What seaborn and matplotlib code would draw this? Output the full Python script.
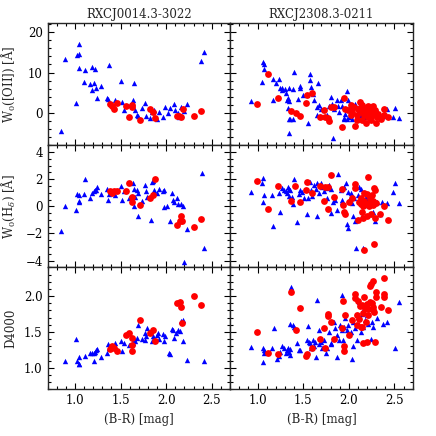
import numpy as np
import seaborn as sns
import matplotlib.pyplot as plt
from matplotlib.ticker import MultipleLocator

# (B-R, value) pairs; blue triangles and red circles
oii_0014_blue = np.array([
    (0.85, -4.5), (0.89, 13.3), (1.01, 2.5), (1.02, 14.3), (1.04, 14.7), (1.05, 17.1),
    (1.04, 11.1), (1.11, 10.7), (1.10, 7.7), (1.17, 7.2), (1.19, 11.4), (1.22, 10.8),
    (1.19, 5.6), (1.21, 7.5), (1.23, 6.2), (1.24, 3.8), (1.29, 6.8), (1.35, 3.6),
    (1.36, 3.4), (1.37, 11.8), (1.44, 3.1), (1.50, 8.0), (1.52, 2.7), (1.54, 0.7),
    (1.60, 1.9), (1.64, 3.1), (1.65, 7.3), (1.66, 0.8), (1.68, -0.6), (1.69, -0.8),
    (1.74, 1.3), (1.77, 2.5), (1.78, -0.7), (1.82, -1.2), (1.84, 0.2), (1.87, 0.7),
    (1.90, -1.6), (1.92, 0.2), (1.97, -1.0), (1.99, 1.5), (2.02, 0.1), (2.04, 1.3),
    (2.08, 2.1), (2.10, 0.8), (2.13, 0.1), (2.14, -1.0), (2.16, 1.5), (2.19, 0.4),
    (2.23, 2.1), (2.38, 12.9), (2.41, 15.0)])
oii_0014_red = np.array([
    (1.38, 2.1), (1.41, 1.7), (1.43, 1.0), (1.46, 2.5), (1.56, 1.7), (1.59, -0.9),
    (1.62, 1.9), (1.63, 1.6), (1.71, -1.7), (1.82, 1.0), (1.86, 0.2), (1.88, -1.2),
    (2.12, -0.8), (2.14, -0.8), (2.16, -0.9), (2.18, 1.0), (2.30, -0.7), (2.38, 0.4)])

hd_0014_blue = np.array([
    (0.85, -1.8), (0.89, 0.0), (1.01, -0.3), (1.02, 0.9), (1.04, 0.8), (1.05, 0.3),
    (1.04, 0.4), (1.11, 2.05), (1.10, 0.9), (1.17, 0.65), (1.19, 1.0), (1.21, 1.1),
    (1.22, 1.2), (1.24, 1.45), (1.23, 1.2), (1.29, 0.9), (1.35, 1.25), (1.36, 0.45),
    (1.37, 0.9), (1.44, 0.8), (1.50, 1.5), (1.52, 0.45), (1.54, 1.15), (1.59, 0.6),
    (1.64, 1.75), (1.65, 1.3), (1.66, 0.7), (1.68, 1.2), (1.69, -0.75), (1.65, 0.05),
    (1.69, 0.95), (1.74, 0.4), (1.77, 1.6), (1.78, 1.1), (1.79, 0.7), (1.83, -1.0),
    (1.84, 1.8), (1.86, 1.85), (1.87, 1.2), (1.90, 0.95), (1.92, 1.25), (1.97, 1.1),
    (1.98, -0.05), (2.01, 0.0), (1.98, 1.2), (2.04, -1.1), (2.06, 0.95), (2.07, 0.45),
    (2.08, 0.3), (2.12, 0.6), (2.13, 0.2), (2.16, 0.15), (2.18, 0.05), (2.19, -4.1),
    (2.23, -1.7), (2.39, 2.45), (2.41, -3.05)])
hd_0014_red = np.array([
    (1.38, 1.1), (1.41, 1.0), (1.43, 1.1), (1.46, 1.15), (1.56, 1.1), (1.59, 1.75),
    (1.62, 0.3), (1.63, 0.7), (1.71, 0.1), (1.82, 0.65), (1.86, 0.8), (1.88, 2.0),
    (2.12, -1.35), (2.15, -1.1), (2.16, -0.75), (2.17, -1.1), (2.30, -1.55), (2.38, -0.9)])

d4000_0014_blue = np.array([
    (0.89, 1.10), (1.01, 1.40), (1.02, 1.10), (1.04, 1.15), (1.05, 1.06), (1.05, 1.05),
    (1.11, 1.16), (1.17, 1.20), (1.19, 1.20), (1.21, 1.20), (1.22, 1.22), (1.23, 1.25),
    (1.24, 1.26), (1.21, 1.10), (1.29, 1.15), (1.35, 1.21), (1.36, 1.33), (1.37, 1.28),
    (1.44, 1.29), (1.44, 1.34), (1.50, 1.37), (1.52, 1.24), (1.54, 1.35), (1.59, 1.32),
    (1.64, 1.35), (1.65, 1.40), (1.66, 1.38), (1.68, 1.42), (1.69, 1.60), (1.74, 1.40),
    (1.77, 1.39), (1.77, 1.48), (1.78, 1.44), (1.79, 1.55), (1.84, 1.37), (1.86, 1.45),
    (1.87, 1.40), (1.90, 1.46), (1.91, 1.49), (1.92, 1.40), (1.97, 1.47), (1.98, 1.38),
    (1.99, 1.44), (2.03, 1.20), (2.04, 1.19), (2.06, 1.54), (2.07, 1.53), (2.09, 1.42),
    (2.11, 1.48), (2.13, 1.53), (2.15, 1.51), (2.16, 1.65), (2.18, 1.67), (2.18, 1.37),
    (2.23, 1.11), (2.41, 1.09)])
d4000_0014_red = np.array([
    (1.38, 1.26), (1.41, 1.31), (1.43, 1.28), (1.46, 1.23), (1.56, 1.46), (1.59, 1.49),
    (1.62, 1.41), (1.63, 1.32), (1.62, 1.24), (1.71, 1.66), (1.82, 1.49), (1.86, 1.53),
    (1.88, 1.38), (2.12, 1.90), (2.15, 1.92), (2.16, 1.85), (2.17, 1.63), (2.30, 2.00),
    (2.38, 1.87)])

oii_2308_blue = np.array([
    (0.93, 2.9), (1.06, 12.6), (1.07, 12.0), (1.07, 10.8), (1.05, 7.6), (1.17, 8.3),
    (1.17, 3.1), (1.20, 7.5), (1.23, 8.5), (1.25, 6.1), (1.27, 6.3), (1.27, 5.8),
    (1.30, 6.0), (1.31, 5.0), (1.33, 3.8), (1.32, 3.1), (1.35, 3.0), (1.33, 1.3),
    (1.35, -1.4), (1.36, -1.6), (1.39, -1.6), (1.34, -5.0), (1.40, 10.1), (1.35, 6.3),
    (1.39, 6.0), (1.44, 3.5), (1.46, 6.2), (1.47, 6.6), (1.50, 4.4), (1.55, -2.6),
    (1.58, 9.6), (1.57, 8.1), (1.59, 6.4), (1.61, 4.6), (1.62, 3.1), (1.66, 7.4),
    (1.65, 1.5), (1.67, 1.9), (1.65, -0.6), (1.69, 1.1), (1.73, 0.7), (1.76, -0.6),
    (1.78, 1.7), (1.80, 4.0), (1.82, 2.3), (1.83, -6.1), (1.84, 1.0), (1.87, 3.3),
    (1.88, 1.8), (1.89, 0.2), (1.91, 3.3), (1.92, 1.7), (1.95, -1.2), (1.96, -0.2),
    (1.98, 5.5), (1.99, 3.1), (2.00, -1.0), (2.02, 0.5), (2.05, 1.7), (2.04, -1.4),
    (2.07, 2.1), (2.13, 1.1), (2.13, -0.6), (2.16, 2.1), (2.20, 1.7), (2.23, 0.5),
    (2.25, -0.2), (2.28, 0.8), (2.31, 0.4), (2.34, -0.6), (2.37, -0.8), (2.42, 1.1),
    (2.48, -1.0), (2.51, 1.2), (2.55, -1.2), (1.95, -1.4), (1.98, -1.4), (2.02, -0.6),
    (2.09, -0.2), (2.11, 0.7), (2.17, -1.0), (2.22, -1.0), (2.24, 1.7), (2.29, -0.6)])
oii_2308_red = np.array([
    (0.99, 2.1), (1.12, 9.6), (1.22, 3.7), (1.37, 0.5), (1.42, 0.0), (1.47, -0.7),
    (1.54, 4.5), (1.60, 4.9), (1.53, 2.5), (1.68, -1.0), (1.73, 0.8), (1.74, -1.0),
    (1.77, -1.2), (1.78, -2.1), (1.80, 1.5), (1.84, 1.5), (1.93, -3.5), (1.95, 3.6),
    (1.96, 1.1), (1.99, 0.7), (2.02, 1.9), (2.02, -0.4), (2.04, 0.2), (2.07, -3.1),
    (2.09, -0.6), (2.10, 1.1), (2.12, 2.7), (2.13, 1.5), (2.14, 0.2), (2.14, -1.8),
    (2.16, 0.8), (2.17, -0.6), (2.19, 1.3), (2.19, -2.5), (2.20, 0.2), (2.21, 1.7),
    (2.21, -1.0), (2.23, 0.8), (2.23, -0.2), (2.24, -1.8), (2.25, 0.7), (2.26, 1.7),
    (2.27, -0.6), (2.29, 0.7), (2.30, -2.5), (2.31, -1.0), (2.32, -0.2), (2.35, -1.4),
    (2.38, 1.1), (2.39, -0.6), (2.43, -1.0), (2.14, 1.9), (2.06, 1.5), (2.09, -1.8)])

hd_2308_blue = np.array([
    (0.93, 1.08), (1.06, 2.08), (1.05, 1.75), (1.07, 0.83), (1.06, 0.3), (1.16, 0.83),
    (1.17, -1.43), (1.25, -0.43), (1.24, 0.95), (1.27, 1.33), (1.29, 1.2), (1.31, 1.15),
    (1.33, 1.45), (1.32, 1.0), (1.34, 1.25), (1.35, 0.75), (1.36, 1.2), (1.38, 0.7),
    (1.39, 0.15), (1.40, 2.03), (1.43, -1.18), (1.45, 0.9), (1.47, 1.2), (1.49, 1.08),
    (1.51, 0.63), (1.54, -0.55), (1.55, 0.65), (1.57, 1.83), (1.59, 1.2), (1.60, 0.75),
    (1.62, 1.58), (1.64, 1.25), (1.65, 1.7), (1.65, -0.75), (1.67, 0.95), (1.68, 1.58),
    (1.69, 1.7), (1.71, 1.45), (1.73, 1.15), (1.76, 0.65), (1.76, 1.33), (1.78, 1.58),
    (1.80, -0.5), (1.81, 1.25), (1.83, 0.33), (1.85, 0.5), (1.87, -0.3), (1.88, 2.4),
    (1.91, 1.2), (1.92, 0.5), (1.93, 0.33), (1.95, 1.45), (1.97, 1.75), (1.99, 1.08),
    (1.98, -1.3), (1.99, -1.6), (2.00, 0.5), (2.02, 0.95), (2.04, 0.25), (2.05, -0.68),
    (2.07, -1.05), (2.08, -3.1), (2.10, 0.83), (2.11, 1.45), (2.13, 1.25), (2.14, -0.68),
    (2.16, -3.1), (2.19, 0.7), (2.21, 0.08), (2.27, -0.43), (2.29, -1.05), (2.31, 0.33),
    (2.34, -0.55), (2.36, 0.33), (2.42, 0.28), (2.48, 1.08), (2.51, 1.7), (2.55, 0.25),
    (2.03, 0.7), (2.06, 0.58), (2.20, 0.5), (2.24, 0.83)])
hd_2308_red = np.array([
    (0.99, 1.88), (1.12, -0.23), (1.22, 1.5), (1.37, 0.38), (1.41, 1.5), (1.47, 0.3),
    (1.53, 1.2), (1.54, 1.83), (1.60, 1.0), (1.68, 1.5), (1.73, 0.38), (1.74, 1.4),
    (1.77, 1.4), (1.77, -0.23), (1.80, 2.28), (1.84, 0.7), (1.93, 1.25), (1.94, 0.08),
    (1.95, -0.43), (1.96, -0.6), (2.00, 0.33), (2.04, 0.65), (2.07, 1.63), (2.07, 1.33),
    (2.10, -1.0), (2.11, 0.33), (2.13, 0.58), (2.13, 0.2), (2.14, -0.43), (2.15, -0.85),
    (2.16, 0.0), (2.17, 0.4), (2.17, 1.0), (2.17, -3.25), (2.19, 0.2), (2.20, -0.68),
    (2.21, 2.15), (2.22, 0.0), (2.23, 0.33), (2.23, 0.58), (2.24, -0.55), (2.25, 0.83),
    (2.25, 0.2), (2.27, 0.08), (2.28, -2.8), (2.28, 1.33), (2.29, 1.2), (2.29, -0.85),
    (2.30, 0.25), (2.34, -0.6), (2.38, 0.0), (2.43, -0.98), (2.27, 0.4), (2.20, 0.9)])

d4000_2308_blue = np.array([
    (0.93, 1.29), (1.06, 1.27), (1.07, 1.25), (1.06, 1.08), (1.07, 1.20), (1.18, 1.56),
    (1.16, 1.27), (1.21, 1.12), (1.23, 1.16), (1.25, 1.22), (1.27, 1.30), (1.29, 1.28),
    (1.31, 1.20), (1.32, 1.25), (1.33, 1.28), (1.35, 1.22), (1.36, 1.26), (1.36, 1.18),
    (1.37, 2.13), (1.36, 1.61), (1.39, 1.60), (1.40, 1.57), (1.43, 1.35), (1.45, 1.25),
    (1.47, 1.25), (1.54, 1.39), (1.55, 1.58), (1.56, 1.36), (1.58, 1.34), (1.59, 1.28),
    (1.61, 1.39), (1.62, 1.30), (1.63, 1.36), (1.64, 1.15), (1.65, 1.95), (1.67, 1.53),
    (1.67, 1.33), (1.69, 1.36), (1.71, 1.28), (1.73, 1.39), (1.75, 1.21), (1.76, 1.28),
    (1.78, 1.50), (1.80, 1.34), (1.81, 1.33), (1.84, 1.64), (1.85, 1.55), (1.87, 1.46),
    (1.87, 1.15), (1.89, 1.39), (1.90, 1.60), (1.92, 1.52), (1.93, 2.01), (1.94, 1.39),
    (1.95, 1.57), (1.96, 1.69), (1.98, 1.53), (1.99, 1.60), (2.00, 1.47), (2.02, 1.50),
    (2.04, 1.12), (2.05, 1.64), (2.05, 1.30), (2.07, 1.55), (2.09, 1.39), (2.10, 1.71),
    (2.11, 1.91), (2.13, 1.50), (2.14, 1.75), (2.16, 1.80), (2.16, 1.57), (2.18, 1.67),
    (2.20, 1.73), (2.21, 1.61), (2.24, 1.40), (2.25, 1.64), (2.27, 1.57), (2.31, 1.69),
    (2.37, 1.61), (2.42, 1.64), (2.51, 1.28), (2.55, 1.91)])
d4000_2308_red = np.array([
    (0.99, 1.50), (1.12, 1.20), (1.22, 1.19), (1.37, 2.05), (1.42, 1.53), (1.47, 1.84),
    (1.53, 1.16), (1.54, 1.19), (1.60, 1.28), (1.68, 1.40), (1.73, 1.55), (1.74, 1.28),
    (1.77, 1.75), (1.77, 1.72), (1.80, 1.64), (1.84, 1.40), (1.93, 1.55), (1.94, 1.93),
    (1.95, 1.30), (1.95, 1.24), (1.96, 1.73), (2.00, 1.46), (2.04, 1.66), (2.07, 2.03),
    (2.07, 1.97), (2.09, 1.73), (2.09, 1.60), (2.10, 1.93), (2.11, 1.68), (2.12, 1.86),
    (2.13, 1.57), (2.14, 1.87), (2.15, 1.77), (2.16, 1.35), (2.17, 1.98), (2.18, 1.84),
    (2.19, 1.64), (2.20, 1.89), (2.20, 1.36), (2.21, 1.82), (2.23, 2.14), (2.23, 1.91),
    (2.24, 2.17), (2.25, 1.90), (2.26, 1.81), (2.27, 2.21), (2.27, 1.85), (2.28, 1.78),
    (2.29, 1.36), (2.30, 2.06), (2.30, 1.99), (2.35, 1.85), (2.38, 2.03), (2.38, 1.98),
    (2.38, 2.25), (2.43, 1.81), (2.21, 1.73), (2.14, 1.57)])

clusters = ['RXCJ0014.3-3022', 'RXCJ2308.3-0211']
ylabels = [r'W$_0$([OII]) [Å]', r'W$_0$(H$_\delta$) [Å]', 'D4000']

panels = [[(oii_0014_blue, oii_0014_red), (oii_2308_blue, oii_2308_red)],
          [(hd_0014_blue, hd_0014_red), (hd_2308_blue, hd_2308_red)],
          [(d4000_0014_blue, d4000_0014_red), (d4000_2308_blue, d4000_2308_red)]]

sns.set_style('ticks')
plt.rcParams['font.family'] = ['DejaVu Serif']
plt.rcParams['mathtext.fontset'] = 'dejavuserif'
plt.rcParams['font.size'] = 8.5

fig, axs = plt.subplots(3, 2, figsize=(4.36, 4.36), dpi=100, sharex=True, sharey='row')
fig.subplots_adjust(left=0.109, right=0.9466, top=0.9466, bottom=0.107, wspace=0, hspace=0)

ylims = [(-8, 22.2), (-4.5, 4.5), (0.7, 2.4)]
majors = [10, 2, 0.5]
minors = [2, 0.5, 0.1]

for row in range(3):
    for col in range(2):
        ax = axs[row, col]
        blue, red = panels[row][col]
        sns.scatterplot(x=blue[:, 0], y=blue[:, 1], ax=ax, marker='^', color='blue',
                        s=15, linewidth=0)
        sns.scatterplot(x=red[:, 0], y=red[:, 1], ax=ax, marker='o', color='red',
                        s=24, linewidth=0)
        ax.set_xlim(0.7, 2.7)
        ax.set_ylim(*ylims[row])
        ax.xaxis.set_major_locator(MultipleLocator(0.5))
        ax.xaxis.set_minor_locator(MultipleLocator(0.1))
        ax.yaxis.set_major_locator(MultipleLocator(majors[row]))
        ax.yaxis.set_minor_locator(MultipleLocator(minors[row]))
        ax.tick_params(which='both', direction='in', top=True, right=True, width=0.8,
                       labelsize=8.5, colors='black')
        ax.tick_params(which='major', length=4)
        ax.tick_params(which='minor', length=2)
        for sp in ax.spines.values():
            sp.set_linewidth(1.0)
        if col == 0:
            ax.set_ylabel(ylabels[row], fontsize=8.5)
            ax.yaxis.set_label_coords(-0.165, 0.5)
        if row == 0:
            ax.set_title(clusters[col], fontsize=8.5, pad=4)
        if row == 2:
            ax.set_xlabel('(B-R) [mag]', fontsize=8.5)

plt.savefig('out.png', dpi=100)
